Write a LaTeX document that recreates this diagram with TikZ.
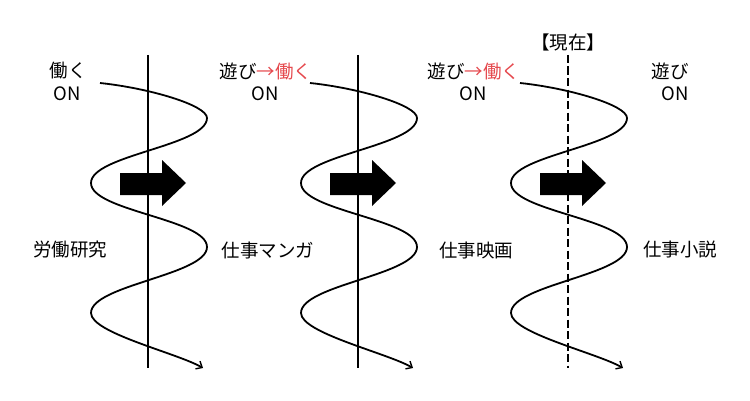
\documentclass[tikz,border=0pt]{standalone}
\usepackage{fontspec}
\setmainfont{Noto Sans CJK JP}
\usepackage{tikz}
\usetikzlibrary{arrows.meta}
\definecolor{WorkRed}{HTML}{E5484D}

\begin{document}
\begin{tikzpicture}[
  x=1pt,y=1pt,
  axis/.style={draw=black,line width=1.8pt},
  nowaxis/.style={axis,dash pattern=on 8pt off 3.5pt},
  spiral/.style={draw=black,line width=1.8pt,-{Straight Barb[length=5pt,width=9pt,line width=1.4pt]}},
  push/.style={fill=black,draw=none},
  label/.style={inner sep=0pt,font=\fontsize{18.5}{21}\selectfont}
]
\useasboundingbox (0,0) rectangle (750,400);

\foreach \cx/\kind in {148/axis,358/axis,568/nowaxis}{
  \begin{scope}[shift={(\cx,0)}]
    \coordinate (top\cx) at (0,345);
    \coordinate (bot\cx) at (0,32);
    \draw[\kind] (top\cx) -- (bot\cx);
    % spiral, top to bottom
    \coordinate (in\cx) at (-48,317);
    \coordinate (out\cx) at (55,32);
    \draw[spiral] (in\cx) .. controls (0,312) and (59,295) .. (59,282)
      .. controls (59,254) and (-57,245) .. (-57,217)
      .. controls (-57,189) and (59,181) .. (59,153)
      .. controls (59,125) and (-57,115) .. (-57,87)
      .. controls (-57,67) and (29,47) .. (out\cx);
    % big arrow
    \fill[push] (-28,205) -- (14,205) -- (14,194) -- (38,217) -- (14,240)
      -- (14,227) -- (-28,227) -- cycle;
  \end{scope}
}

% Research.
\node[label] (mode1) at (68,329) {働く};
\node[label] (on1) at (67,306) {ON};
\node[label] (topic1) at (70,150) {労働研究};

% Manga.
\node[label] (mode2) at (266,329) {遊び\textcolor{WorkRed}{→働く}};
\node[label] (on2) at (265,306) {ON};
\node[label] (topic2) at (268,150) {仕事マンガ};

% Film.
\node[label] (now) at (568,358) {【現在】};
\node[label] (mode3) at (474,329) {遊び\textcolor{WorkRed}{→働く}};
\node[label] (on3) at (473,306) {ON};
\node[label] (topic3) at (476,150) {仕事映画};

% Novel.
\node[label] (mode4) at (670,329) {遊び};
\node[label] (on4) at (675,306) {ON};
\node[label] (topic4) at (680,150) {仕事小説};
\end{tikzpicture}
\end{document}
